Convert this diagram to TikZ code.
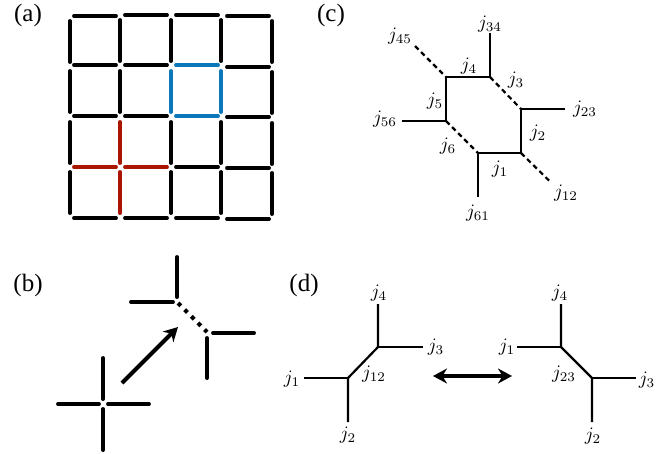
\documentclass[tikz,border=0pt]{standalone}
\usepackage{fontspec}
\usepackage{tikz}
\usetikzlibrary{arrows.meta}
\newfontfamily\panelfont{Liberation Serif}
\definecolor{plaqblue}{HTML}{0A77BB}
\definecolor{starred}{HTML}{AA1500}

\begin{document}
\begin{tikzpicture}[
  x=1pt, y=-1pt,
  panel/.style={font=\panelfont\fontsize{25}{27}\selectfont},
  spin/.style={scale=1.9, inner sep=0pt},
  stick/.style={line width=3.9pt, line cap=round},
  bond/.style={line width=2.2pt},
  dashbond/.style={line width=2.2pt, dash pattern=on 5pt off 3.6pt},
  bigtip/.style={line width=4pt, -{Stealth[length=14pt,width=15pt]}}
]
  \useasboundingbox (0,0) rectangle (672,453);

  \node[panel] (a) at (28,15) {(a)};
  \node[panel] (b) at (28,285) {(b)};
  \node[panel] (c) at (331,15) {(c)};
  \node[panel] (d) at (304,285) {(d)};

  \foreach \xa/\ya/\col in {
    74/16/black, 125/15/black, 176/15/black, 227/16/black,
    74/65/black, 125/65/black, 176/65/plaqblue, 227/67/black,
    74/116/black, 125/116/black, 176/116/plaqblue, 227/117/black,
    74/167/starred, 125/167/starred, 176/167/black, 227/168/black,
    74/218/black, 125/218/black, 176/218/black, 227/219/black}
    \draw[stick, draw=\col] (\xa,\ya) -- ++(42,0);

  \foreach \xa/\ya/\col in {
    70/21/black, 120/20/black, 171/20/black, 221/20/black, 272/21/black,
    70/71/black, 120/71/black, 171/71/plaqblue, 221/71/plaqblue, 272/72/black,
    70/122/black, 120/122/starred, 171/122/black, 221/122/black, 272/123/black,
    70/172/black, 120/172/starred, 171/172/black, 221/172/black, 272/173/black}
    \draw[stick, draw=\col] (\xa,\ya) -- ++(0,41);

  \draw[stick] (58,404) -- (99,404);
  \draw[stick] (108,404) -- (149,404);
  \draw[stick] (103,358) -- (103,399);
  \draw[stick] (103,409) -- (103,450);
  \draw[bigtip] (122,383) -- (178,327);
  \draw[stick] (177,257) -- (177,297);
  \draw[stick] (131,302) -- (173,302);
  \draw[line width=4.2pt, dash pattern=on 4pt off 5.4pt] (178,303) -- (207,332);
  \draw[stick] (213,333) -- (254,333);
  \draw[stick] (207,338) -- (207,378);

  \coordinate (v4) at (446,77);
  \coordinate (v3) at (490,77);
  \coordinate (v2) at (521,109);
  \coordinate (v1) at (521,153);
  \coordinate (v6) at (478,153);
  \coordinate (v5) at (446,121);
  \coordinate (e34) at (490,33);
  \coordinate (e23) at (565,109);
  \coordinate (e12) at (551,182.5);
  \coordinate (e61) at (478,197);
  \coordinate (e56) at (402,121);
  \coordinate (e45) at (415,46);
  \draw[bond] (v5) -- (v4) -- (v3) -- (e34);
  \draw[bond] (e23) -- (v2) -- (v1) -- (v6) -- (e61);
  \draw[bond] (e56) -- (v5);
  \draw[dashbond] (e45) -- (v4);
  \draw[dashbond] (v3) -- (v2);
  \draw[dashbond] (v1) -- (e12);
  \draw[dashbond] (v5) -- (v6);

  \node[spin] (j45) at (400,36) {$j_{45}$};
  \node[spin] (j34) at (490,24) {$j_{34}$};
  \node[spin] (j4) at (469,66) {$j_{4}$};
  \node[spin] (j3) at (516,80) {$j_{3}$};
  \node[spin] (j23) at (585,109) {$j_{23}$};
  \node[spin] (j2) at (538,133) {$j_{2}$};
  \node[spin] (j12) at (566,193) {$j_{12}$};
  \node[spin] (j1) at (500,169) {$j_{1}$};
  \node[spin] (j61) at (478,213) {$j_{61}$};
  \node[spin] (j6) at (448,146) {$j_{6}$};
  \node[spin] (j56) at (385,119) {$j_{56}$};
  \node[spin] (j5) at (435,101) {$j_{5}$};

  \coordinate (la) at (378,347);
  \coordinate (lb) at (348,378);
  \coordinate (ra) at (561,347);
  \coordinate (rb) at (592,378);
  \coordinate (lt) at (378,304);
  \coordinate (lu) at (348,422);
  \coordinate (lr) at (423,347);
  \coordinate (ll) at (304,378);
  \coordinate (rt) at (561,304);
  \coordinate (ru) at (592,422);
  \coordinate (rl) at (517,347);
  \coordinate (rr) at (636,378);
  \draw[bond] (lt) -- (la) -- (lb) -- (lu);
  \draw[bond] (la) -- (lr);
  \draw[bond] (lb) -- (ll);
  \draw[bond] (rt) -- (ra) -- (rb) -- (ru);
  \draw[bond] (ra) -- (rl);
  \draw[bond] (rb) -- (rr);
  \draw[bigtip, {Stealth[length=14pt,width=15pt]}-{Stealth[length=14pt,width=15pt]}] (433,376) -- (512,376);

  \node[spin] (lj4) at (379,293) {$j_{4}$};
  \node[spin] (lj3) at (436,347) {$j_{3}$};
  \node[spin] (lj12) at (374,374) {$j_{12}$};
  \node[spin] (lj1) at (292,379) {$j_{1}$};
  \node[spin] (lj2) at (348,435) {$j_{2}$};
  \node[spin] (rj4) at (560,293) {$j_{4}$};
  \node[spin] (rj1) at (507,347) {$j_{1}$};
  \node[spin] (rj23) at (564,374) {$j_{23}$};
  \node[spin] (rj3) at (647,380) {$j_{3}$};
  \node[spin] (rj2) at (593,436) {$j_{2}$};
\end{tikzpicture}
\end{document}
